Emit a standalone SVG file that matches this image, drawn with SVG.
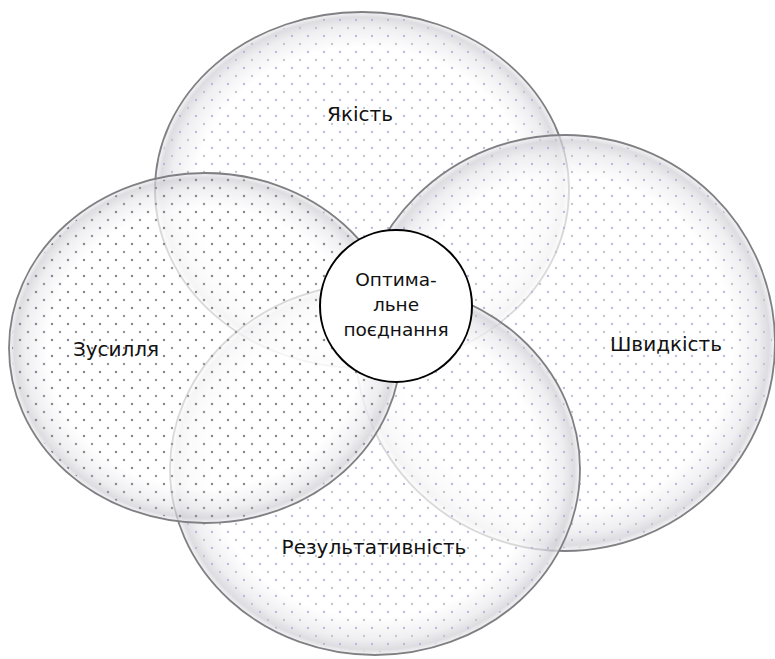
<svg xmlns="http://www.w3.org/2000/svg" width="775" height="659" viewBox="0 0 775 659">
  <style>
    .lbl { font-family: "DejaVu Sans", "Liberation Sans", sans-serif; font-size: 20px; fill: #111; text-anchor: middle; }
    .inner { font-size: 18.5px; }
    .glass { fill: url(#glassGrad); fill-opacity: 0.7; }
    .rim { fill: none; stroke: #808084; stroke-width: 1.8; }
    .dotsLight { fill: url(#dotsLight); }
    .dotsDark { fill: url(#dotsDark); }
  </style>
  <defs>
    <radialGradient id="glassGrad" cx="0.5" cy="0.5" r="0.5">
      <stop offset="0" stop-color="#ffffff"/>
      <stop offset="0.8" stop-color="#ffffff"/>
      <stop offset="0.92" stop-color="#e8e8ec"/>
      <stop offset="0.972" stop-color="#cfcfd5"/>
      <stop offset="1" stop-color="#f2f2f4"/>
    </radialGradient>
    <pattern id="dotsLight" width="16" height="16" patternUnits="userSpaceOnUse">
      <circle cx="4" cy="4" r="1.15" fill="#b3bbd6"/>
      <circle cx="12" cy="12" r="1.15" fill="#c2c4ce"/>
    </pattern>
    <pattern id="dotsDark" width="16" height="16" patternUnits="userSpaceOnUse">
      <circle cx="4" cy="4" r="1.25" fill="#8a8a90"/>
      <circle cx="12" cy="12" r="1.25" fill="#96969c"/>
    </pattern>
  </defs>
  <rect width="775" height="659" fill="#ffffff"/>

  <g id="node-yakist">
    <ellipse class="glass" cx="362" cy="190" rx="207" ry="178"/>
    <ellipse class="dotsLight" cx="362" cy="190" rx="204" ry="175"/>
    <ellipse class="rim" cx="362" cy="190" rx="207" ry="178"/>
    <text class="lbl" x="360" y="121">Якість</text>
  </g>

  <g id="node-shvydkist">
    <ellipse class="glass" cx="565" cy="343" rx="210" ry="208"/>
    <ellipse class="dotsLight" cx="565" cy="343" rx="207" ry="205"/>
    <ellipse class="rim" cx="565" cy="343" rx="210" ry="208"/>
    <text class="lbl" x="666" y="351">Швидкість</text>
  </g>

  <g id="node-rezultatyvnist">
    <ellipse class="glass" cx="375" cy="469" rx="205" ry="186"/>
    <ellipse class="dotsLight" cx="375" cy="469" rx="202" ry="183"/>
    <ellipse class="rim" cx="375" cy="469" rx="205" ry="186"/>
    <text class="lbl" x="374" y="554">Результативність</text>
  </g>

  <g id="node-zusyllia">
    <ellipse class="glass" cx="205" cy="348" rx="196" ry="175"/>
    <ellipse class="dotsDark" cx="205" cy="348" rx="193" ry="172"/>
    <ellipse class="rim" cx="205" cy="348" rx="196" ry="175"/>
    <text class="lbl" x="116" y="356">Зусилля</text>
  </g>

  <g id="node-optimum">
    <circle cx="396" cy="306" r="76" fill="#ffffff" stroke="#000000" stroke-width="2"/>
    <text class="lbl inner" x="396" y="286">Оптима-</text>
    <text class="lbl inner" x="396" y="311">льне</text>
    <text class="lbl inner" x="396" y="336">поєднання</text>
  </g>

  <g id="connectors"/>
</svg>
